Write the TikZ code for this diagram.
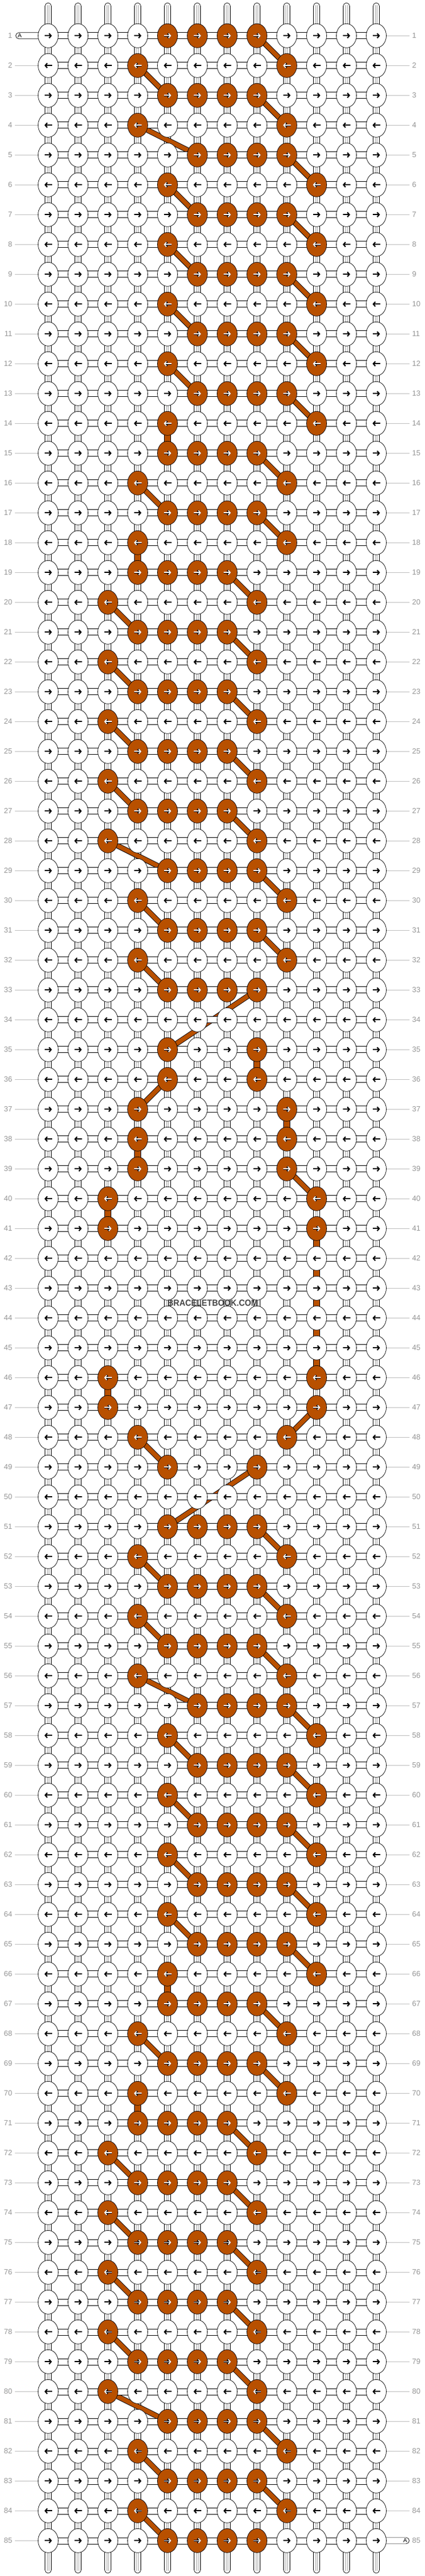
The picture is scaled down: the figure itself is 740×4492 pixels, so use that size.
\documentclass[tikz,border=0pt]{standalone}
\usepackage{fontspec}
\setmainfont{Liberation Sans}
\usepackage{xstring}
\usetikzlibrary{shapes.geometric,arrows.meta,calc}
\definecolor{bbor}{RGB}{184,80,0}
\definecolor{lblgray}{RGB}{150,150,150}
\definecolor{linegray}{RGB}{190,190,190}
\definecolor{wmgray}{RGB}{70,70,70}
\pgfdeclarelayer{paper}
\pgfdeclarelayer{strands}
\pgfdeclarelayer{bands}
\pgfdeclarelayer{hconnl}
\pgfsetlayers{paper,strands,bands,hconnl,main}
\tikzset{
 knot/.style={ellipse, draw=black, line width=0.7pt, fill=white, minimum width=35pt, minimum height=42pt, inner sep=0pt},
 oknot/.style={knot, fill=bbor},
 barr/.style={line width=2.1pt, -{Straight Barb[length=3.5pt,width=8pt]}},
 woutl/.style={black, line width=3.6pt, -{Straight Barb[length=3.5pt,width=8pt]}},
 warr/.style={white, line width=1.7pt, -{Straight Barb[length=3.5pt,width=8pt]}},
 vstrand/.style={draw=black, line width=0.7pt, fill=white, rounded corners=5.5pt},
 vinner/.style={draw=black!35, line width=0.4pt},
 hbar/.style={draw=black, line width=0.7pt, fill=white},
 bandout/.style={draw=black, line width=9.5pt, line join=round},
 bandin/.style={draw=bbor, line width=7.7pt, line join=round},
 vorange/.style={draw=black, line width=0.7pt, fill=bbor},
 lbl/.style={text=lblgray, font=\fontsize{13}{13}\selectfont, inner sep=0pt},
 gl/.style={draw=linegray, line width=0.8pt},
 atext/.style={font=\fontsize{10}{10}\selectfont, inner sep=0pt},
 wm/.style={text=wmgray, font=\bfseries\fontsize{15.5}{15.5}\selectfont, inner sep=0pt},
}
\newcommand\bandlink[4]{%
 \draw[bandout] (k-#1-#2.center) -- (k-#3-#4.center);
 \draw[bandin] (k-#1-#2.center) -- (k-#3-#4.center);}
\newcommand\bendlink[5]{%
 \draw[bandout] (k-#1-#2.center) -- ($(k-#1-#3.center)!0.5!(k-#4-#3.center)$) -- (k-#4-#5.center);
 \draw[bandin] (k-#1-#2.center) -- ($(k-#1-#3.center)!0.5!(k-#4-#3.center)$) -- (k-#4-#5.center);}
\newcommand\vlink[3]{%
 \filldraw[vorange] ([xshift=-5.5pt]k-#1-#2.center) rectangle ([xshift=5.5pt]k-#3-#2.center);}
\begin{document}
\begin{tikzpicture}[x=1pt,y=-1pt]
\begin{pgfonlayer}{paper}
\fill[white] (0,0) rectangle (740,4492);
\end{pgfonlayer}
\useasboundingbox (0,0) rectangle (740,4492);
% knots
\foreach \ri/\ol in {1/5-6-7-8,2/4-9,3/5-6-7-8,4/4-9,5/6-7-8-9,6/5-10,7/6-7-8-9,8/5-10,9/6-7-8-9,10/5-10,
 11/6-7-8-9,12/5-10,13/6-7-8-9,14/5-10,15/5-6-7-8,16/4-9,17/5-6-7-8,18/4-9,19/4-5-6-7,20/3-8,
 21/4-5-6-7,22/3-8,23/4-5-6-7,24/3-8,25/4-5-6-7,26/3-8,27/4-5-6-7,28/3-8,29/5-6-7-8,30/4-9,
 31/5-6-7-8,32/4-9,33/5-6-7-8,34/0,35/5-8,36/5-8,37/4-9,38/4-9,39/4-9,40/3-10,
 41/3-10,42/0,43/0,44/0,45/0,46/3-10,47/3-10,48/4-9,49/5-8,50/0,
 51/5-6-7-8,52/4-9,53/5-6-7-8,54/4-9,55/5-6-7-8,56/4-9,57/6-7-8-9,58/5-10,59/6-7-8-9,60/5-10,
 61/6-7-8-9,62/5-10,63/6-7-8-9,64/5-10,65/6-7-8-9,66/5-10,67/5-6-7-8,68/4-9,69/5-6-7-8,70/4-9,
 71/4-5-6-7,72/3-8,73/4-5-6-7,74/3-8,75/4-5-6-7,76/3-8,77/4-5-6-7,78/3-8,79/4-5-6-7,80/3-8,
 81/5-6-7-8,82/4-9,83/5-6-7-8,84/4-9,85/5-6-7-8}{
  \pgfmathsetmacro\yy{62.3+52*(\ri-1)}
  \ifodd\ri\relax\def\xa{-6.5}\def\xb{6.5}\else\def\xa{6.5}\def\xb{-6.5}\fi
  \foreach \ci in {1,...,12}{
    \pgfmathsetmacro\xx{84+52*(\ci-1)}
    \IfSubStr{-\ol-}{-\ci-}{%
      \node[oknot] (k-\ri-\ci) at (\xx,\yy) {};
      \draw[woutl] ([xshift=\xa pt]k-\ri-\ci.center) -- ([xshift=\xb pt]k-\ri-\ci.center);
      \draw[warr] ([xshift=\xa pt]k-\ri-\ci.center) -- ([xshift=\xb pt]k-\ri-\ci.center);
    }{%
      \node[knot] (k-\ri-\ci) at (\xx,\yy) {};
      \draw[barr] ([xshift=\xa pt]k-\ri-\ci.center) -- ([xshift=\xb pt]k-\ri-\ci.center);
    }
  }
}
% row labels
\foreach \ri in {1,...,85}{
  \pgfmathsetmacro\yy{62.3+52*(\ri-1)}
  \node[lbl,anchor=east] (ll-\ri) at (21.5,\yy) {\ri};
  \node[lbl,anchor=west] (lr-\ri) at (718.5,\yy) {\ri};
}
\begin{pgfonlayer}{strands}
\foreach \ri in {2,...,85}{\draw[gl] ([xshift=4.5pt]ll-\ri.east) -- (k-\ri-1.west);}
\foreach \ri in {1,...,84}{\draw[gl] (k-\ri-12.east) -- ([xshift=-5pt]lr-\ri.west);}
\foreach \ci in {1,...,12}{
  \pgfmathsetmacro\xx{84+52*(\ci-1)}
  \coordinate (top-\ci) at (\xx,5);
  \coordinate (bot-\ci) at (\xx,4487);
  \draw[vstrand] ([xshift=-5.5pt]top-\ci) rectangle ([xshift=5.5pt]bot-\ci);
  \draw[vinner] ([xshift=-1.5pt,yshift=-4pt]top-\ci) -- ([xshift=-1.5pt,yshift=4pt]bot-\ci);
  \draw[vinner] ([xshift=1.5pt,yshift=-4pt]top-\ci) -- ([xshift=1.5pt,yshift=4pt]bot-\ci);
}
\end{pgfonlayer}
\begin{pgfonlayer}{bands}
\bandlink{1}{8}{2}{9}
\bandlink{2}{4}{3}{5}
\bandlink{3}{8}{4}{9}
\bendlink{4}{4}{5}{5}{6}
\bandlink{5}{9}{6}{10}
\bandlink{6}{5}{7}{6}
\bandlink{7}{9}{8}{10}
\bandlink{8}{5}{9}{6}
\bandlink{9}{9}{10}{10}
\bandlink{10}{5}{11}{6}
\bandlink{11}{9}{12}{10}
\bandlink{12}{5}{13}{6}
\bandlink{13}{9}{14}{10}
\vlink{14}{5}{15}
\bandlink{15}{8}{16}{9}
\bandlink{16}{4}{17}{5}
\bandlink{17}{8}{18}{9}
\vlink{18}{4}{19}
\bandlink{19}{7}{20}{8}
\bandlink{20}{3}{21}{4}
\bandlink{21}{7}{22}{8}
\bandlink{22}{3}{23}{4}
\bandlink{23}{7}{24}{8}
\bandlink{24}{3}{25}{4}
\bandlink{25}{7}{26}{8}
\bandlink{26}{3}{27}{4}
\bandlink{27}{7}{28}{8}
\bendlink{28}{3}{4}{29}{5}
\bandlink{29}{8}{30}{9}
\bandlink{30}{4}{31}{5}
\bandlink{31}{8}{32}{9}
\bandlink{32}{4}{33}{5}
\bandlink{33}{8}{35}{5}
\vlink{35}{8}{36}
\bandlink{36}{5}{37}{4}
\vlink{37}{9}{38}
\vlink{38}{4}{39}
\bandlink{39}{9}{40}{10}
\vlink{40}{3}{41}
\vlink{41}{10}{42}
\vlink{42}{10}{43}
\vlink{43}{10}{44}
\vlink{44}{10}{45}
\vlink{45}{10}{46}
\vlink{46}{3}{47}
\bandlink{47}{10}{48}{9}
\bandlink{48}{4}{49}{5}
\bandlink{49}{8}{51}{5}
\bandlink{51}{8}{52}{9}
\bandlink{52}{4}{53}{5}
\bandlink{53}{8}{54}{9}
\bandlink{54}{4}{55}{5}
\bandlink{55}{8}{56}{9}
\bendlink{56}{4}{5}{57}{6}
\bandlink{57}{9}{58}{10}
\bandlink{58}{5}{59}{6}
\bandlink{59}{9}{60}{10}
\bandlink{60}{5}{61}{6}
\bandlink{61}{9}{62}{10}
\bandlink{62}{5}{63}{6}
\bandlink{63}{9}{64}{10}
\bandlink{64}{5}{65}{6}
\bandlink{65}{9}{66}{10}
\vlink{66}{5}{67}
\bandlink{67}{8}{68}{9}
\bandlink{68}{4}{69}{5}
\bandlink{69}{8}{70}{9}
\vlink{70}{4}{71}
\bandlink{71}{7}{72}{8}
\bandlink{72}{3}{73}{4}
\bandlink{73}{7}{74}{8}
\bandlink{74}{3}{75}{4}
\bandlink{75}{7}{76}{8}
\bandlink{76}{3}{77}{4}
\bandlink{77}{7}{78}{8}
\bandlink{78}{3}{79}{4}
\bandlink{79}{7}{80}{8}
\bendlink{80}{3}{4}{81}{5}
\bandlink{81}{8}{82}{9}
\bandlink{82}{4}{83}{5}
\bandlink{83}{8}{84}{9}
\bandlink{84}{4}{85}{5}
\end{pgfonlayer}
\begin{pgfonlayer}{hconnl}
\foreach \ri in {1,...,85}{\draw[hbar] ([yshift=5.5pt]k-\ri-1.center) rectangle ([yshift=-5.5pt]k-\ri-12.center);}
\coordinate (aL) at (27.5,62.3);
\coordinate (aR) at (713.5,4430.3);
\draw[hbar, rounded corners=5.5pt] ([yshift=5.5pt]aL) rectangle ([yshift=-5.5pt]k-1-1.center);
\draw[hbar, rounded corners=5.5pt] ([yshift=5.5pt]k-85-12.center) rectangle ([yshift=-5.5pt]aR);
\end{pgfonlayer}
\node[atext] (aLt) at (34.5,62.3) {A};
\node[atext] (aRt) at (706.5,4430.3) {A};
\node[wm] (wm) at (371,2272) {\scalebox{0.92}[1]{BRACELETBOOK.COM}};
\end{tikzpicture}
\end{document}
